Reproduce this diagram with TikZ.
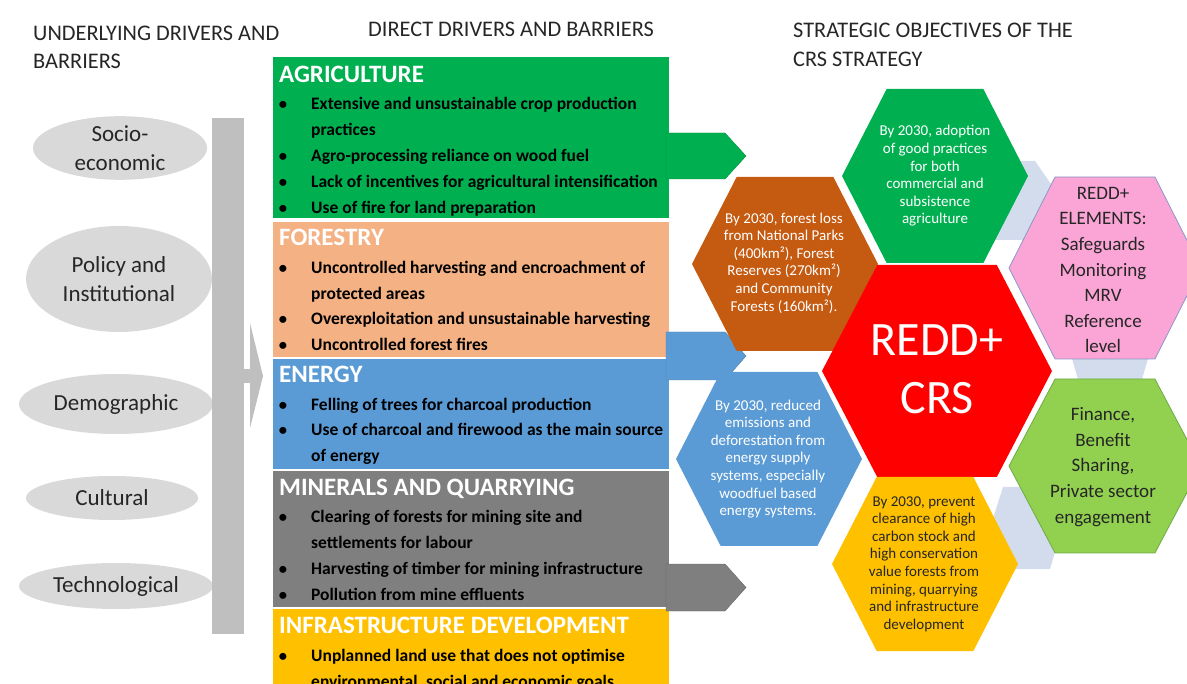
\documentclass[tikz,border=0pt]{standalone}
\usepackage{fontspec}
\setmainfont{Carlito}
\usepackage{xcolor}
\usepackage{tikz}
\usetikzlibrary{shapes.geometric}

\definecolor{agrigreen}{HTML}{00B050}
\definecolor{forestpeach}{HTML}{F4B183}
\definecolor{energyblue}{HTML}{5B9BD5}
\definecolor{minegray}{HTML}{7F7F7F}
\definecolor{infragold}{HTML}{FFC000}
\definecolor{parkbrown}{HTML}{C55A11}
\definecolor{reddred}{HTML}{FF0000}
\definecolor{elempink}{RGB}{250,165,213}
\definecolor{financegreen}{HTML}{92D050}
\definecolor{linkblue}{RGB}{210,220,237}
\definecolor{ovalgray}{HTML}{D9D9D9}
\definecolor{bargray}{HTML}{BFBFBF}
\definecolor{inktext}{HTML}{262626}

% hexagon with pointed left/right ends: style, centre, half width, half height
\newcommand{\hexcell}[4]{%
  \path[#1,shift={(#2)}] (-#3,0) -- (-0.52*#3,-#4) -- (0.52*#3,-#4) -- (#3,0)
    -- (0.52*#3,#4) -- (-0.52*#3,#4) -- cycle;}

\tikzset{
  coltitle/.style={anchor=base west,inner sep=0pt,text=inktext,font=\fontsize{22.3}{29}\selectfont},
  driver/.style={ellipse,fill=ovalgray,text=inktext,align=center,inner sep=0pt,font=\fontsize{23}{29}\selectfont},
  sector/.style={rectangle,anchor=north west,minimum width=396pt,inner sep=0pt},
  head/.style={anchor=base west,inner sep=0pt,text=white,font=\fontsize{25}{29}\selectfont\bfseries},
  item/.style={anchor=base west,inner sep=0pt,text=black,font=\fontsize{17.5}{26}\selectfont\bfseries},
  dot/.style={anchor=base,inner sep=0pt,text=black,font=\fontsize{16.5}{26}\selectfont\bfseries},
  goaltxt/.style={align=center,inner sep=0pt,font=\fontsize{15}{17.6}\selectfont},
  bigtxt/.style={align=center,inner sep=0pt,text=inktext,font=\fontsize{19}{25.6}\selectfont}
}

\begin{document}
\begin{tikzpicture}[x=1pt,y=-1pt]
  \useasboundingbox (0,0) rectangle (1187,684);

  % column titles
  \node[coltitle] (t-under) at (33,41) {UNDERLYING DRIVERS AND};
  \node[coltitle] (t-under2) at (33,69) {BARRIERS};
  \node[coltitle] (t-direct) at (368,37) {DIRECT DRIVERS AND BARRIERS};
  \node[coltitle] (t-strat) at (793,38) {STRATEGIC OBJECTIVES OF THE};
  \node[coltitle] (t-strat2) at (793,67) {CRS STRATEGY};

  % underlying drivers
  \foreach \nm/\x/\y/\w/\h/\txt in {socio/120/148/174/60/{Socio-\\economic},
      policy/119/279/186/106/{Policy and\\Institutional},
      demo/116/404/194/60/{Demographic},
      culture/112/498/172/44/{Cultural},
      techno/116/586/194/46/{Technological}}{
    \node[driver,minimum width=\w pt,minimum height=\h pt] (\nm) at (\x,\y) {\txt};
  }

  % big grey arrow into the sectors
  \fill[bargray] (212,118) rectangle (244,634);
  \fill[bargray] (244,369) rectangle (250,383);
  \fill[bargray] (250,323) -- (263,376) -- (250,428) -- cycle;

  % sector boxes
  \foreach \nm/\col/\top/\bot/\base/\txt in {agri/agrigreen/57/218/83/AGRICULTURE,
      forest/forestpeach/222/357/246/FORESTRY,
      energy/energyblue/359/469/383/ENERGY,
      mine/minegray/471/607/496/MINERALS AND QUARRYING,
      infra/infragold/609/700/633/INFRASTRUCTURE DEVELOPMENT}{
    \node[sector,fill=\col,minimum height={(\bot-\top)*1pt}] (\nm) at (273,\top) {};
    \node[head] (\nm-head) at (279,\base) {\txt};
  }

  \foreach \y/\b/\txt [count=\i] in {110/1/{Extensive and unsustainable crop production},
      136/0/{practices}, 162/1/{Agro-processing reliance on wood fuel},
      188/1/{Lack of incentives for agricultural intensification},
      214/1/{Use of fire for land preparation}}{
    \node[item] (agri-\i) at (311,\y) {\txt};
    \ifnum\b=1 \node[dot] (agri-b\i) at (283,\y) {\textbullet}; \fi
  }
  \foreach \y/\b/\txt [count=\i] in {274/1/{Uncontrolled harvesting and encroachment of},
      300/0/{protected areas}, 325/1/{Overexploitation and unsustainable harvesting},
      351/1/{Uncontrolled forest fires}}{
    \node[item] (forest-\i) at (311,\y) {\txt};
    \ifnum\b=1 \node[dot] (forest-b\i) at (283,\y) {\textbullet}; \fi
  }
  \foreach \y/\b/\txt [count=\i] in {411/1/{Felling of trees for charcoal production},
      436/1/{Use of charcoal and firewood as the main source},
      462/0/{of energy}}{
    \node[item] (energy-\i) at (311,\y) {\txt};
    \ifnum\b=1 \node[dot] (energy-b\i) at (283,\y) {\textbullet}; \fi
  }
  \foreach \y/\b/\txt [count=\i] in {523/1/{Clearing of forests for mining site and},
      548/0/{settlements for labour}, 574/1/{Harvesting of timber for mining infrastructure},
      600/1/{Pollution from mine effluents}}{
    \node[item] (mine-\i) at (311,\y) {\txt};
    \ifnum\b=1 \node[dot] (mine-b\i) at (283,\y) {\textbullet}; \fi
  }
  \foreach \y/\b/\txt [count=\i] in {661/1/{Unplanned land use that does not optimise},
      687/0/{environmental, social and economic goals}}{
    \node[item] (infra-\i) at (311,\y) {\txt};
    \ifnum\b=1 \node[dot] (infra-b\i) at (283,\y) {\textbullet}; \fi
  }

  % chevrons towards the objectives
  \foreach \col/\top/\bot in {agrigreen/133/179, energyblue/332/380, minegray/564/611}{
    \pgfmathsetmacro\mid{(\top+\bot)/2}
    \filldraw[fill=\col,draw=\col!80!black,line width=.4pt]
      (666,\top) -- (725,\top) -- (746,\mid) -- (725,\bot) -- (666,\bot) -- cycle;
  }

  % pale links behind the cluster
  \fill[linkblue] (995,161) -- (1035,161) -- (1062,200) -- (1040,240) -- (995,240) -- cycle;
  \fill[linkblue] (1070,352) -- (1150,352) -- (1140,386) -- (1080,386) -- cycle;
  \fill[linkblue] (1003,487) -- (1050,487) -- (1062,528) -- (1050,569) -- (1013,569) -- (990,528) -- cycle;

  % hexagon cluster
  \hexcell{fill=agrigreen}{935,176}{93}{87}
  \hexcell{fill=parkbrown}{785,264}{93}{87}
  \hexcell{fill=reddred}{937,371}{115}{106}
  \hexcell{fill=elempink,draw={rgb,255:red,140;green,150;blue,200},line width=.8pt}{1105,268}{96}{91}
  \hexcell{fill=financegreen,draw={rgb,255:red,110;green,170;blue,70},line width=.8pt}{1105,466}{96}{87}
  \hexcell{fill=energyblue}{769,459}{93}{87}
  \hexcell{fill=infragold}{925,564}{93}{87}

  \node[goaltxt,text=white] (agri-goal) at (935,176)
    {By 2030, adoption\\of good practices\\for both\\commercial and\\subsistence\\agriculture};
  \node[goaltxt,text=white] (forest-goal) at (784,263)
    {By 2030, forest loss\\from National Parks\\(400km²), Forest\\Reserves (270km²)\\and Community\\Forests (160km²).};
  \node[goaltxt,text=white] (energy-goal) at (768,459)
    {By 2030, reduced\\emissions and\\deforestation from\\energy supply\\systems, especially\\woodfuel based\\energy systems.};
  \node[goaltxt,text=inktext] (mine-goal) at (924,564)
    {By 2030, prevent\\clearance of high\\carbon stock and\\high conservation\\value forests from\\mining, quarrying\\and infrastructure\\development};
  \node[align=center,inner sep=0pt,text=white,font=\fontsize{48}{58}\selectfont] (crs) at (937,369) {REDD+\\CRS};
  \node[bigtxt] (elements) at (1103,270) {REDD+\\ELEMENTS:\\Safeguards\\Monitoring\\MRV\\Reference\\level};
  \node[bigtxt] (finance) at (1103,467) {Finance,\\Benefit\\Sharing,\\Private sector\\engagement};
\end{tikzpicture}
\end{document}
